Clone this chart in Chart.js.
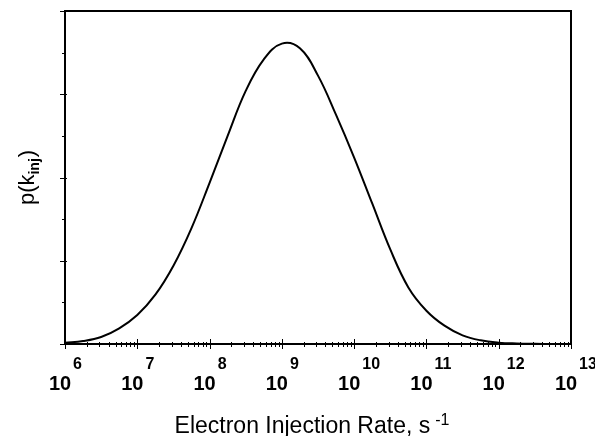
<!DOCTYPE html>
<html>
<head>
<meta charset="utf-8">
<script src="https://cdn.jsdelivr.net/npm/chart.js@4.4.1/dist/chart.umd.min.js"></script>
<style>
  html, body { margin: 0; padding: 0; background: #fff; }
  canvas { display: block; }
</style>
</head>
<body>
<canvas id="c" width="595" height="436"></canvas>
<script>
// ---- data ----
const logK = [6.0, 6.25, 6.5, 6.75, 7.0, 7.25, 7.5, 7.75, 8.0, 8.25, 8.5, 8.75, 9.0, 9.25, 9.5, 9.75, 10.0, 10.25, 10.5, 10.75, 11.0, 11.25, 11.5, 11.75, 12.0, 12.25, 12.5, 12.75, 13.0];
const pValues = [0.004, 0.009, 0.021, 0.047, 0.087, 0.148, 0.235, 0.348, 0.484, 0.625, 0.760, 0.855, 0.902, 0.888, 0.806, 0.688, 0.560, 0.422, 0.284, 0.170, 0.100, 0.055, 0.026, 0.011, 0.004, 0.0015, 0.0005, 0.0, 0.0];
const decadeExponents = ['6', '7', '8', '9', '10', '11', '12', '13'];
const yMajorTicks = [0, 0.25, 0.5, 0.75, 1.0];
const yMinorTicks = [0.125, 0.375, 0.625, 0.875];
const xTitle = 'Electron Injection Rate, s';
const xTitleSup = '-1';
const yTitleMain = 'p(k';
const yTitleSub = 'inj';
const yTitleEnd = ')';

const FONT = '"Liberation Sans", Arial, Helvetica, sans-serif';

const points = logK.map((l, i) => ({ x: Math.pow(10, l), y: pValues[i] }));

const axesPlugin = {
  id: 'axesPlugin',
  afterDraw(chart) {
    const ctx = chart.ctx;
    const xs = chart.scales.x, ys = chart.scales.y;
    const a = chart.chartArea;
    ctx.save();
    ctx.strokeStyle = '#000';
    ctx.fillStyle = '#000';

    // frame
    ctx.lineWidth = 2;
    ctx.strokeRect(a.left, a.top, a.right - a.left, a.bottom - a.top);

    // x ticks (major decades + minor 2..9)
    ctx.lineWidth = 1;
    for (let i = 0; i < decadeExponents.length; i++) {
      const e = parseInt(decadeExponents[i], 10);
      const px = Math.round(xs.getPixelForValue(Math.pow(10, e))) + 0.5;
      ctx.beginPath();
      ctx.moveTo(px, a.bottom - 5);
      ctx.lineTo(px, a.bottom + 5);
      ctx.stroke();
      if (i < decadeExponents.length - 1) {
        for (let m = 2; m <= 9; m++) {
          const mx = Math.round(xs.getPixelForValue(m * Math.pow(10, e))) + 0.5;
          ctx.beginPath();
          ctx.moveTo(mx, a.bottom - 2);
          ctx.lineTo(mx, a.bottom + 3);
          ctx.stroke();
        }
      }
    }

    // y ticks
    yMajorTicks.forEach(v => {
      const py = Math.round(ys.getPixelForValue(v)) + 0.5;
      ctx.beginPath();
      ctx.moveTo(a.left - 5, py);
      ctx.lineTo(a.left + 2, py);
      ctx.stroke();
    });
    yMinorTicks.forEach(v => {
      const py = Math.round(ys.getPixelForValue(v)) + 0.5;
      ctx.beginPath();
      ctx.moveTo(a.left - 3, py);
      ctx.lineTo(a.left, py);
      ctx.stroke();
    });

    // x tick labels: 10 with superscript exponent
    ctx.textBaseline = 'alphabetic';
    ctx.textAlign = 'left';
    decadeExponents.forEach(e => {
      const px = xs.getPixelForValue(Math.pow(10, parseInt(e, 10)));
      ctx.font = 'bold 20px ' + FONT;
      const w = ctx.measureText('10').width;
      const left = px - 5 - w / 2;
      ctx.fillText('10', left, 390);
      ctx.font = 'bold 16px ' + FONT;
      ctx.fillText(e, left + w + 2, 369);
    });

    // x title
    ctx.font = '23px ' + FONT;
    const tw = ctx.measureText(xTitle).width;
    ctx.font = '16px ' + FONT;
    const sw = ctx.measureText(xTitleSup).width;
    const total = tw + 5 + sw;
    const cx = (a.left + a.right) / 2 - 6;
    const tx = cx - total / 2;
    ctx.font = '23px ' + FONT;
    ctx.fillText(xTitle, tx, 433);
    ctx.font = '16px ' + FONT;
    ctx.fillText(xTitleSup, tx + tw + 5, 425);

    // y title (rotated)
    ctx.save();
    ctx.translate(34, (a.top + a.bottom) / 2);
    ctx.rotate(-Math.PI / 2);
    ctx.font = '22px ' + FONT;
    const w1 = ctx.measureText(yTitleMain).width;
    const w3 = ctx.measureText(yTitleEnd).width;
    ctx.font = 'bold 14px ' + FONT;
    const w2 = ctx.measureText(yTitleSub).width;
    const tot = w1 + w2 + w3 + 1;
    let sx = -tot / 2;
    ctx.font = '22px ' + FONT;
    ctx.fillText(yTitleMain, sx, 0);
    sx += w1;
    ctx.font = 'bold 14px ' + FONT;
    ctx.fillText(yTitleSub, sx, 5);
    sx += w2 + 1;
    ctx.font = '22px ' + FONT;
    ctx.fillText(yTitleEnd, sx, 0);
    ctx.restore();

    ctx.restore();
  }
};

new Chart(document.getElementById('c'), {
  type: 'line',
  data: {
    datasets: [{
      data: points,
      borderColor: '#000',
      borderWidth: 2,
      pointRadius: 0,
      fill: false,
      tension: 0.4
    }]
  },
  options: {
    responsive: false,
    animation: false,
    devicePixelRatio: 1,
    layout: { padding: { left: 65, right: 24, top: 11, bottom: 92 } },
    plugins: { legend: { display: false }, tooltip: { enabled: false } },
    scales: {
      x: { type: 'logarithmic', min: 1e6, max: 1e13, display: false },
      y: { type: 'linear', min: 0, max: 1, display: false }
    }
  },
  plugins: [axesPlugin]
});
</script>
</body>
</html>
